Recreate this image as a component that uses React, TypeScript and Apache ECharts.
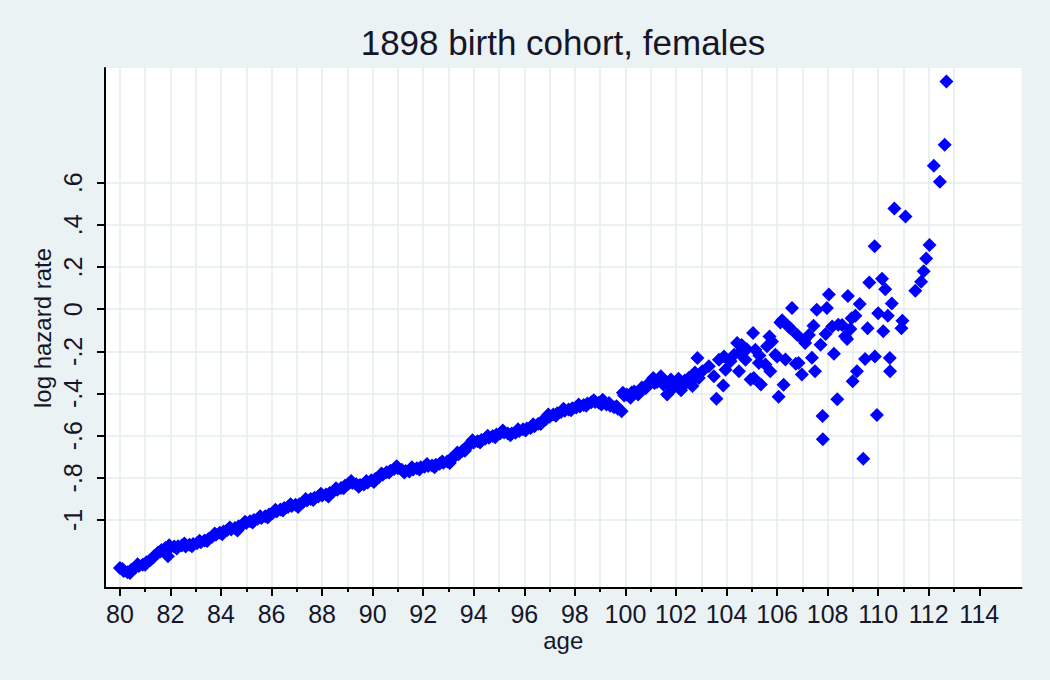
import React, { useEffect, useRef } from "react";
import * as echarts from "echarts";

// ---- data (age, log hazard rate) ----
const TITLE = "1898 birth cohort, females";
const X_NAME = "age";
const Y_NAME = "log hazard rate";

const xMajorTicks = [80, 82, 84, 86, 88, 90, 92, 94, 96, 98, 100, 102, 104, 106, 108, 110, 112, 114];
const xMinorTicks = [81, 83, 85, 87, 89, 91, 93, 95, 97, 99, 101, 103, 105, 107, 109, 111, 113];
const xGridLines = [80, 81, 82, 83, 84, 85, 86, 87, 88, 89, 90, 91, 92, 93, 94, 95, 96, 97, 98, 99, 100, 101, 102, 103, 104, 105, 106, 107, 108, 109, 110, 111, 112, 113];
const yTicks = [-1, -0.8, -0.6, -0.4, -0.2, 0, 0.2, 0.4, 0.6];

const X_MIN = 79.41;
const X_MAX = 115.67;
const Y_MIN = -1.3226;
const Y_MAX = 1.144;

// dense part of the cloud, ages 80–102.8
const bandPoints: [number, number][] = [
  [80.0, -1.228], [80.15, -1.242], [80.3, -1.248], [80.45, -1.236], [80.6, -1.226], [80.75, -1.218],
  [80.9, -1.212], [81.05, -1.2], [81.2, -1.19], [81.35, -1.172], [81.5, -1.155], [81.65, -1.142],
  [81.8, -1.133], [81.9, -1.172], [82.0, -1.13], [82.15, -1.126], [82.3, -1.124], [82.45, -1.121],
  [82.6, -1.126], [82.75, -1.117], [82.9, -1.114], [83.05, -1.11], [83.2, -1.106], [83.35, -1.097],
  [83.5, -1.09], [83.65, -1.08], [83.8, -1.07], [83.95, -1.06], [84.1, -1.055], [84.25, -1.048],
  [84.4, -1.045], [84.55, -1.038], [84.7, -1.03], [84.85, -1.022], [85.0, -1.014], [85.15, -1.006],
  [85.3, -1.0], [85.45, -0.994], [85.6, -0.99], [85.75, -0.982], [85.9, -0.974], [86.05, -0.967],
  [86.2, -0.96], [86.35, -0.95], [86.5, -0.943], [86.65, -0.938], [86.8, -0.934], [86.95, -0.928],
  [87.1, -0.925], [87.25, -0.915], [87.4, -0.908], [87.55, -0.9], [87.7, -0.895], [87.85, -0.888],
  [88.0, -0.884], [88.15, -0.879], [88.3, -0.872], [88.45, -0.864], [88.6, -0.856], [88.75, -0.848],
  [88.9, -0.838], [89.05, -0.827], [89.2, -0.824], [89.35, -0.83], [89.5, -0.834], [89.65, -0.832],
  [89.8, -0.822], [89.95, -0.812], [90.1, -0.806], [90.25, -0.796], [90.4, -0.785], [90.55, -0.774],
  [90.7, -0.766], [90.85, -0.758], [91.0, -0.755], [91.15, -0.762], [91.3, -0.768], [91.45, -0.77],
  [91.6, -0.76], [91.75, -0.754], [91.9, -0.75], [92.05, -0.747], [92.2, -0.744], [92.35, -0.741],
  [92.5, -0.738], [92.65, -0.733], [92.8, -0.728], [92.95, -0.722], [93.1, -0.71], [93.25, -0.698],
  [93.4, -0.688], [93.55, -0.672], [93.7, -0.655], [93.85, -0.641], [94.0, -0.632], [94.15, -0.626],
  [94.3, -0.62], [94.45, -0.615], [94.6, -0.61], [94.75, -0.602], [94.9, -0.595], [95.05, -0.589],
  [95.2, -0.585], [95.35, -0.59], [95.5, -0.59], [95.65, -0.586], [95.8, -0.578], [95.95, -0.569],
  [96.1, -0.566], [96.25, -0.564], [96.4, -0.555], [96.55, -0.544], [96.7, -0.532], [96.85, -0.522],
  [97.0, -0.51], [97.15, -0.5], [97.3, -0.494], [97.45, -0.488], [97.6, -0.482], [97.75, -0.476],
  [97.9, -0.47], [98.05, -0.466], [98.2, -0.462], [98.35, -0.455], [98.5, -0.447], [98.65, -0.441],
  [98.8, -0.44], [98.95, -0.444], [99.1, -0.43], [99.25, -0.452], [99.4, -0.458], [99.55, -0.465],
  [99.7, -0.472], [99.85, -0.484], [99.9, -0.397], [100.05, -0.405], [100.2, -0.42], [100.35, -0.39],
  [100.5, -0.405], [100.65, -0.372], [100.8, -0.375], [100.95, -0.355], [101.1, -0.326], [101.25, -0.345],
  [101.4, -0.318], [101.5, -0.357], [101.65, -0.405], [101.8, -0.334], [101.9, -0.373], [102.05, -0.352],
  [102.2, -0.385], [102.35, -0.338], [102.5, -0.326], [102.65, -0.365], [102.75, -0.3],
];

// points along the upper / lower edges of the dense band
const bandEdgePoints: [number, number][] = [
  [80.1, -1.232], [80.4, -1.252], [80.7, -1.21], [81.0, -1.212], [81.3, -1.18], [81.6, -1.15],
  [81.95, -1.12], [82.25, -1.135], [82.55, -1.112], [82.85, -1.125], [83.15, -1.098], [83.45, -1.1],
  [83.75, -1.064], [84.05, -1.068], [84.35, -1.036], [84.65, -1.05], [84.95, -1.008], [85.25, -1.012],
  [85.55, -0.982], [85.85, -0.988], [86.15, -0.952], [86.45, -0.955], [86.75, -0.925], [87.05, -0.938],
  [87.35, -0.9], [87.65, -0.905], [87.95, -0.875], [88.25, -0.888], [88.55, -0.85], [88.85, -0.85],
  [89.15, -0.815], [89.45, -0.842], [89.75, -0.815], [90.05, -0.82], [90.35, -0.78], [90.65, -0.775],
  [90.95, -0.745], [91.25, -0.775], [91.55, -0.75], [91.85, -0.76], [92.15, -0.735], [92.45, -0.75],
  [92.75, -0.722], [93.05, -0.73], [93.35, -0.68], [93.65, -0.672], [93.95, -0.622], [94.25, -0.632],
  [94.55, -0.6], [94.85, -0.608], [95.15, -0.575], [95.45, -0.598], [95.75, -0.57], [96.05, -0.575],
  [96.35, -0.546], [96.65, -0.545], [96.95, -0.5], [97.25, -0.505], [97.55, -0.472], [97.85, -0.48],
  [98.15, -0.452], [98.45, -0.458], [98.75, -0.432], [99.05, -0.452], [99.35, -0.445], [99.65, -0.46],
  [99.95, -0.41], [100.25, -0.395], [100.55, -0.39], [100.85, -0.36], [101.15, -0.35], [101.45, -0.335],
  [101.75, -0.36], [102.1, -0.33], [102.4, -0.35], [102.7, -0.33],
];

// scattered tail, ages 102.8–112.7
const tailPoints: [number, number][] = [
  [102.85, -0.232], [102.9, -0.326], [103.04, -0.295], [103.3, -0.271], [103.5, -0.318], [103.6, -0.425],
  [103.7, -0.24], [103.87, -0.362], [103.9, -0.225], [103.96, -0.287], [104.16, -0.247], [104.3, -0.216],
  [104.42, -0.161], [104.49, -0.295], [104.5, -0.208], [104.6, -0.17], [104.75, -0.24], [104.8, -0.19],
  [104.95, -0.334], [105.05, -0.113], [105.08, -0.326], [105.14, -0.192], [105.28, -0.255], [105.3, -0.22],
  [105.36, -0.357], [105.54, -0.263], [105.6, -0.176], [105.7, -0.13], [105.73, -0.295], [105.8, -0.153],
  [105.93, -0.216], [106.0, -0.225], [106.06, -0.416], [106.13, -0.063], [106.2, -0.052], [106.26, -0.358],
  [106.33, -0.239], [106.45, -0.082], [106.52, -0.09], [106.59, 0.005], [106.74, -0.259], [106.8, -0.122],
  [106.85, -0.255], [106.98, -0.31], [107.07, -0.149], [107.11, -0.16], [107.26, -0.122], [107.38, -0.23],
  [107.44, -0.079], [107.5, -0.295], [107.57, -0.003], [107.72, -0.169], [107.8, -0.507], [107.81, -0.617],
  [107.92, -0.118], [107.97, 0.005], [108.05, 0.07], [108.18, -0.082], [108.25, -0.212], [108.38, -0.427],
  [108.42, -0.074], [108.57, -0.075], [108.69, -0.129], [108.77, -0.141], [108.8, 0.063], [108.9, -0.094],
  [108.95, -0.043], [108.99, -0.342], [109.1, -0.031], [109.16, -0.295], [109.27, 0.024], [109.41, -0.709],
  [109.48, -0.236], [109.58, -0.09], [109.65, 0.126], [109.86, 0.298], [109.87, -0.224], [109.95, -0.502],
  [110.0, -0.019], [110.15, 0.144], [110.2, -0.105], [110.28, 0.094], [110.38, -0.031], [110.46, -0.232],
  [110.47, -0.295], [110.54, 0.027], [110.64, 0.477], [110.92, -0.09], [110.96, -0.055], [111.08, 0.44],
  [111.47, 0.087], [111.7, 0.13], [111.8, 0.18], [111.9, 0.24], [112.03, 0.305], [112.2, 0.68],
  [112.44, 0.605], [112.63, 0.78], [112.7, 1.08],
];

const FONT = "'Liberation Sans', Arial, sans-serif";
const BG = "#eaf2f3";
const GRIDLINE = "#e2ecef";
const MARKER = "#0000ff";
const TEXT = "#16162a";

const gridBox = { left: 105, right: 28.5, top: 68, bottom: 92 };

function fmtY(v: number): string {
  const r = Math.round(v * 10) / 10;
  if (r === 0) return "0";
  const s = String(Math.abs(r)).replace(/^0/, "");
  return (r < 0 ? "-" : "") + s;
}

export default function App() {
  const ref = useRef<HTMLDivElement | null>(null);

  useEffect(() => {
    if (!ref.current) return;
    const chart = echarts.init(ref.current, null, { renderer: "svg" });

    const hiddenY = (gridIndex: number) => ({
      type: "value",
      gridIndex,
      min: Y_MIN,
      max: Y_MAX,
      show: false,
    });

    const option: any = {
      animation: false,
      backgroundColor: BG,
      title: {
        text: TITLE,
        left: 563,
        textAlign: "center",
        top: 25,
        padding: 0,
        textStyle: { fontFamily: FONT, fontSize: 35, fontWeight: "normal", color: TEXT },
      },
      grid: [
        { ...gridBox, show: true, backgroundColor: "#ffffff", borderWidth: 0, outerBoundsMode: "none" },
        { ...gridBox, show: false, outerBoundsMode: "none" },
        { ...gridBox, show: false, outerBoundsMode: "none" },
      ],
      xAxis: [
        {
          type: "value",
          gridIndex: 0,
          min: X_MIN,
          max: X_MAX,
          name: X_NAME,
          nameLocation: "middle",
          nameGap: 40,
          nameMoveOverlap: false,
          nameTextStyle: { fontFamily: FONT, fontSize: 24, color: TEXT },
          axisLine: { show: true, onZero: false, lineStyle: { color: "#000", width: 2 } },
          axisTick: { show: true, length: 8, customValues: xMajorTicks, lineStyle: { color: "#000", width: 2 } },
          axisLabel: {
            show: true,
            customValues: xMajorTicks,
            margin: 13,
            fontFamily: FONT,
            fontSize: 25,
            color: TEXT,
            formatter: (v: number) => String(Math.round(v)),
          },
          splitLine: { show: false },
        },
        {
          type: "value",
          gridIndex: 1,
          min: X_MIN,
          max: X_MAX,
          axisLine: { show: false, onZero: false },
          axisTick: { show: true, length: 4, customValues: xMinorTicks, lineStyle: { color: "#000", width: 2 } },
          axisLabel: { show: false },
          splitLine: { show: false },
        },
        {
          type: "value",
          gridIndex: 2,
          min: X_MIN,
          max: X_MAX,
          axisLine: { show: false, onZero: false },
          axisTick: { show: false, customValues: xGridLines },
          axisLabel: { show: false },
          splitLine: { show: true, lineStyle: { color: GRIDLINE, width: 1.5 } },
        },
      ],
      yAxis: [
        {
          type: "value",
          gridIndex: 0,
          min: Y_MIN,
          max: Y_MAX,
          name: Y_NAME,
          nameLocation: "middle",
          nameGap: 51,
          nameMoveOverlap: false,
          nameTextStyle: { fontFamily: FONT, fontSize: 24, color: TEXT },
          axisLine: { show: true, onZero: false, lineStyle: { color: "#000", width: 2 } },
          axisTick: { show: true, length: 8, customValues: yTicks, lineStyle: { color: "#000", width: 2 } },
          axisLabel: {
            show: true,
            customValues: yTicks,
            rotate: 90,
            margin: 20,
            fontFamily: FONT,
            fontSize: 25,
            color: TEXT,
            formatter: (v: number) => fmtY(v),
          },
          splitLine: { show: true, lineStyle: { color: GRIDLINE, width: 1.5 } },
        },
        hiddenY(1),
        hiddenY(2),
      ],
      series: [
        {
          type: "scatter",
          xAxisIndex: 0,
          yAxisIndex: 0,
          symbol: "diamond",
          symbolSize: 14,
          itemStyle: { color: MARKER, opacity: 1 },
          data: bandPoints.concat(bandEdgePoints, tailPoints),
        },
      ],
    };

    chart.setOption(option);
    return () => chart.dispose();
  }, []);

  return (
    <div
      ref={ref}
      style={{ position: "fixed", left: 0, top: 0, width: 1050, height: 680 }}
    />
  );
}
